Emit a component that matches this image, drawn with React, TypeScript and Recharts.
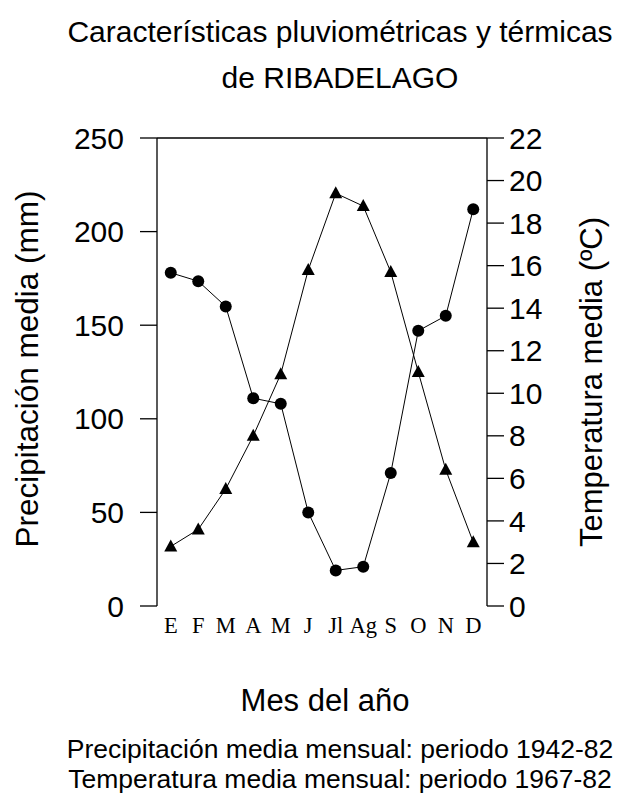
import { LineChart, Line, XAxis, YAxis, ReferenceLine } from "recharts";

const months = ["E", "F", "M", "A", "M", "J", "Jl", "Ag", "S", "O", "N", "D"];
const precipitation = [178, 173.5, 160, 111, 108, 50, 19, 21, 71, 147, 155, 212];
const temperature = [2.8, 3.6, 5.5, 8.0, 10.9, 15.8, 19.4, 18.8, 15.7, 11.0, 6.4, 3.0];
const precipTicks = [0, 50, 100, 150, 200, 250];
const tempTicks = [0, 2, 4, 6, 8, 10, 12, 14, 16, 18, 20, 22];

const data = months.map((m, i) => ({ month: m, idx: i, precip: precipitation[i], temp: temperature[i] }));

const SANS = "'Liberation Sans', Arial, sans-serif";

function Triangle(props: any) {
  const { cx, cy } = props;
  if (cx == null || cy == null) return null;
  return <path d={`M${cx},${cy - 7} L${cx + 6.5},${cy + 5} L${cx - 6.5},${cy + 5} Z`} fill="#000" />;
}

function MonthTick(props: any) {
  const { x, payload } = props;
  return (
    <text x={x} y={633} textAnchor="middle" fontFamily="'Liberation Serif', 'Times New Roman', serif" fontSize={22.5} fill="#000">
      {months[payload.value]}
    </text>
  );
}

function Label({ cx, cy, size, text, rotate }: { cx: number; cy: number; size: number; text: string; rotate?: boolean }) {
  return (
    <div
      style={{
        position: "absolute",
        left: cx,
        top: cy,
        transform: `translate(-50%, -50%)${rotate ? " rotate(-90deg)" : ""}`,
        whiteSpace: "nowrap",
        fontFamily: SANS,
        fontSize: size,
        lineHeight: 1,
        color: "#000",
      }}
    >
      {text}
    </div>
  );
}

export default function App() {
  return (
    <div style={{ position: "absolute", left: 0, top: 0, width: 632, height: 798, background: "#fff" }}>
      <Label cx={340} cy={32} size={30} text="Características pluviométricas y térmicas" />
      <Label cx={340} cy={78} size={30} text="de RIBADELAGO" />
      <LineChart width={632} height={798} data={data} margin={{ top: 138, right: 45, bottom: 162, left: 57 }}>
        <XAxis
          dataKey="idx"
          type="category"
          axisLine={false}
          tickLine={false}
          height={30}
          padding={{ left: 13.75, right: 13.75 }}
          tick={<MonthTick />}
          interval={0}
        />
        <YAxis
          yAxisId="p"
          domain={[0, 250]}
          ticks={precipTicks}
          width={100}
          tickSize={17}
          tickMargin={16}
          axisLine={{ stroke: "#000", strokeWidth: 1.3 }}
          tickLine={{ stroke: "#000", strokeWidth: 1.3 }}
          tick={{ fill: "#000", fontSize: 30, fontFamily: SANS }}
        />
        <YAxis
          yAxisId="t"
          orientation="right"
          domain={[0, 22]}
          ticks={tempTicks}
          width={100}
          tickSize={17}
          tickMargin={5}
          axisLine={{ stroke: "#000", strokeWidth: 1.3 }}
          tickLine={{ stroke: "#000", strokeWidth: 1.3 }}
          tick={{ fill: "#000", fontSize: 30, fontFamily: SANS }}
        />
        <ReferenceLine yAxisId="p" y={250} stroke="#000" strokeWidth={1.3} />
        <Line
          yAxisId="p"
          dataKey="precip"
          type="linear"
          stroke="#000"
          strokeWidth={1}
          dot={{ r: 6, fill: "#000", stroke: "#000", strokeWidth: 0 }}
          isAnimationActive={false}
        />
        <Line
          yAxisId="t"
          dataKey="temp"
          type="linear"
          stroke="#000"
          strokeWidth={1}
          dot={<Triangle />}
          isAnimationActive={false}
        />
      </LineChart>
      <Label cx={28} cy={369} size={31.5} text="Precipitación media (mm)" rotate />
      <Label cx={591} cy={382} size={31} text="Temperatura media (ºC)" rotate />
      <Label cx={325} cy={700} size={31} text="Mes del año" />
      <Label cx={340} cy={749} size={26.5} text="Precipitación media mensual: periodo 1942-82" />
      <Label cx={340} cy={779} size={26.5} text="Temperatura media mensual: periodo 1967-82" />
    </div>
  );
}
